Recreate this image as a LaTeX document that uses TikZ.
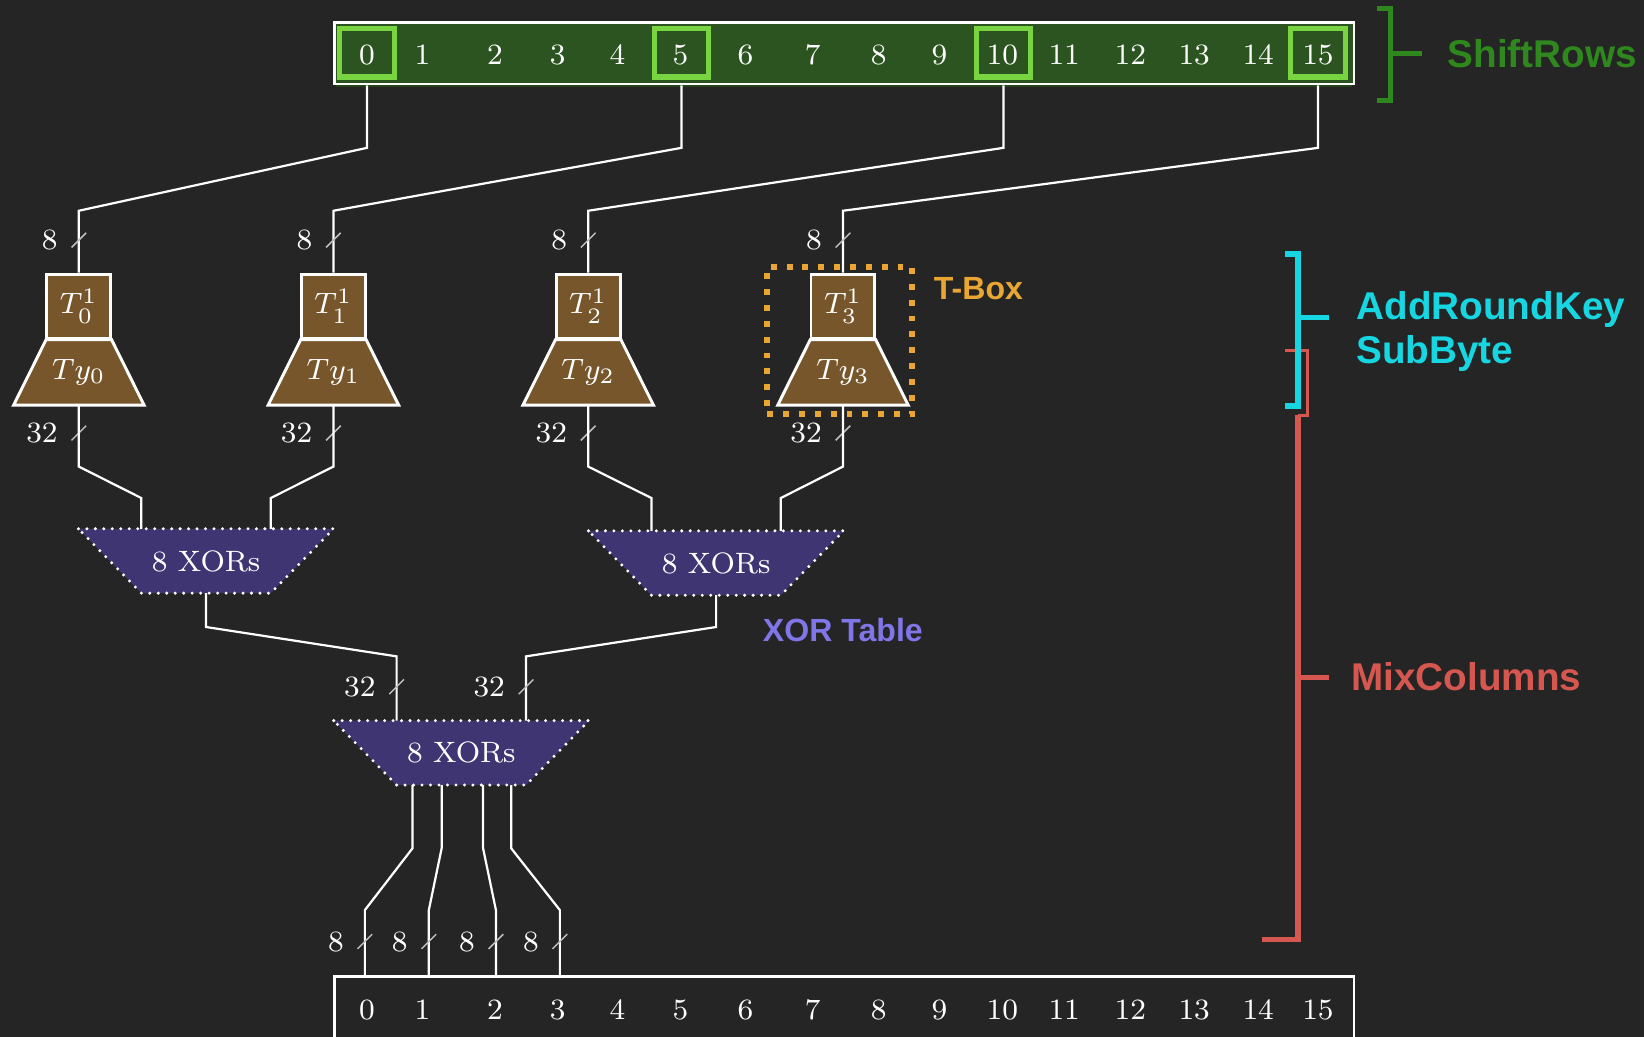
\documentclass[tikz,border=0pt]{standalone}
\usepackage{fontspec}
\setsansfont{Liberation Sans}
\usepackage{tikz}
\usetikzlibrary{positioning,calc,fit,backgrounds}
\definecolor{bg}{RGB}{37,37,37}
\definecolor{regfill}{RGB}{44,84,32}
\definecolor{regshade}{RGB}{34,66,24}
\definecolor{hilite}{RGB}{120,212,64}
\definecolor{srgreen}{RGB}{46,136,30}
\definecolor{tbrown}{RGB}{118,86,42}
\definecolor{xorfill}{RGB}{62,53,114}
\definecolor{xorlbl}{RGB}{128,118,232}
\definecolor{tboxorange}{RGB}{234,166,50}
\definecolor{akcyan}{RGB}{22,214,226}
\definecolor{mcred}{RGB}{214,86,80}
\newcommand{\buswidth}[2]{%
  \coordinate (bw) at (#1);
  \draw[slash] ($(bw)+(-0.07,-0.07)$) -- ($(bw)+(0.07,0.07)$);
  \node[buslbl] at ($(bw)+(-0.16,0)$) {#2};}

\begin{document}
\begin{tikzpicture}[
  font=\fontsize{8}{9.6}\selectfont,
  wire/.style={draw=white,line width=0.6pt},
  slash/.style={draw=white!70!bg,line width=0.4pt},
  buslbl/.style={text=white,anchor=east,inner sep=1pt},
  reg/.style={draw=white,line width=0.7pt,minimum height=0.59cm,minimum width=9.72cm,inner sep=0pt},
  cell/.style={text=white,inner sep=1pt},
  hl/.style={draw=hilite,line width=1.4pt,minimum width=0.52cm,minimum height=0.46cm,inner sep=0pt},
  tsq/.style={draw=white,fill=tbrown,line width=0.8pt,minimum size=0.61cm,inner sep=0pt,text=white},
  tybody/.style={minimum width=0.61cm,minimum height=0.61cm,inner sep=0pt,text=white},
  tyedge/.style={draw=white,fill=tbrown,line width=0.8pt,line join=miter},
  xorbody/.style={minimum width=1.22cm,minimum height=0.6cm,inner sep=0pt,text=white},
  xoredge/.style={draw=white,fill=xorfill,line width=0.9pt,dash pattern=on 0pt off 2.3pt,line cap=round},
  tbframe/.style={draw=tboxorange,line width=1.6pt,dash pattern=on 1.6pt off 2.7pt,inner sep=0.07cm},
  brk/.style={line width=1.5pt},
  tag/.style={font=\fontsize{10.5}{12}\selectfont\sffamily\bfseries,anchor=west,inner sep=0pt},
  smalltag/.style={font=\fontsize{8.7}{10}\selectfont\sffamily\bfseries,anchor=west,inner sep=0pt}
]
\useasboundingbox (0,0) rectangle (15.68,-9.89);
\clip (0,0) rectangle (15.68,-9.89);
\begin{scope}[on background layer]
  \fill[bg] (0,0) rectangle (15.68,-9.89);
\end{scope}
% state registers
\fill[regshade] (3.20,-0.22) rectangle (12.89,-0.83);
\node[reg,fill=regfill,anchor=north west] (sr) at (3.18,-0.20) {};
\node[reg,anchor=north west,minimum height=1cm] (or) at (3.18,-9.30) {};
\foreach \i/\x in {0/3.50,1/4.03,2/4.72,3/5.32,4/5.89,5/6.49,6/7.11,7/7.75,8/8.38,9/8.96,
                   10/9.56,11/10.15,12/10.78,13/11.39,14/12.00,15/12.57}{
  \node[cell] (s\i) at (\x,-0.52) {\i};
  \node[cell] (o\i) at (\x,-9.63) {\i};
}
\foreach \i/\x in {0/3.50,5/6.50,10/9.57,15/12.57}
  \node[hl] (h\i) at (\x,-0.505) {};
% T-boxes
\foreach \j/\x in {0/0.752,1/3.18,2/5.61,3/8.04}{
  \node[tsq] (t\j) at (\x,-2.92) {$T_{\j}^{1}$};
  \node[tybody,anchor=north] (ty\j) at (t\j.south) {$Ty_{\j}$};
  \begin{scope}[on background layer]
    \draw[tyedge] (ty\j.north west) -- (ty\j.north east) -- ($(ty\j.south east)+(0.31,0)$)
      coordinate (ty\j br) -- ($(ty\j.south west)+(-0.31,0)$) coordinate (ty\j bl) -- cycle;
  \end{scope}
}
\node[tbframe,fit=(t3)(ty3bl)(ty3br),xshift=-0.3mm,yshift=-0.15mm] (tbox) {};
% xor tables
\node[xorbody] (xor1) at (1.965,-5.35) {8 XORs};
\node[xorbody] (xor2) at (6.83,-5.37) {8 XORs};
\node[xorbody] (xor3) at (4.40,-7.18) {8 XORs};
\begin{scope}[on background layer]
  \foreach \n in {xor1,xor2,xor3}
    \draw[xoredge] ($(\n.north west)+(-0.6,0)$) -- ($(\n.north east)+(0.6,0)$)
      -- (\n.south east) -- (\n.south west) -- cycle;
\end{scope}
% shiftrows -> T-boxes
\foreach \i/\j in {0/0,5/1,10/2,15/3}{
  \draw[wire] (h\i |- sr.south) -- (h\i |- 0,-1.41) -- (t\j |- 0,-2.01) -- (t\j.north);
  \buswidth{t\j |- 0,-2.29}{8}
  \buswidth{ty\j |- 0,-4.13}{32}
}
% T-boxes -> xor
\draw[wire] (ty0.south) -- (ty0 |- 0,-4.45) -- (xor1.north west |- 0,-4.75) -- (xor1.north west);
\draw[wire] (ty1.south) -- (ty1 |- 0,-4.45) -- (xor1.north east |- 0,-4.75) -- (xor1.north east);
\draw[wire] (ty2.south) -- (ty2 |- 0,-4.45) -- (xor2.north west |- 0,-4.75) -- (xor2.north west);
\draw[wire] (ty3.south) -- (ty3 |- 0,-4.45) -- (xor2.north east |- 0,-4.75) -- (xor2.north east);
\draw[wire] (xor1.south) -- (xor1.south |- 0,-5.98) -- (xor3.north west |- 0,-6.26) -- (xor3.north west);
\draw[wire] (xor2.south) -- (xor2.south |- 0,-5.98) -- (xor3.north east |- 0,-6.26) -- (xor3.north east);
\buswidth{xor3.north west |- 0,-6.55}{32}
\buswidth{xor3.north east |- 0,-6.55}{32}
% xor -> output bytes
\foreach \k/\f/\b in {0/0.123/3.48,1/0.348/4.09,2/0.668/4.73,3/0.885/5.34}{
  \coordinate (b\k) at (\b,-9.30);
  \draw[wire] ($(xor3.south west)!\f!(xor3.south east)$) coordinate (q\k)
    -- (q\k |- 0,-8.09) -- (b\k |- 0,-8.68) -- (b\k);
  \buswidth{b\k |- 0,-8.98}{8}
}
% stage brackets
\draw[brk,srgreen] (13.13,-0.08) -- (13.26,-0.08) -- (13.26,-0.96) -- (13.13,-0.96);
\draw[brk,srgreen] (13.26,-0.51) -- (13.56,-0.51);
\draw[mcred,line width=0.8pt] (12.26,-3.34) -- (12.47,-3.34) -- (12.47,-3.96) -- (12.38,-3.96);
\draw[brk,mcred] (12.38,-3.96) -- (12.38,-8.96) -- (12.04,-8.96);
\draw[brk,mcred] (12.38,-6.46) -- (12.68,-6.46);
\draw[brk,akcyan] (12.26,-2.42) -- (12.38,-2.42) -- (12.38,-3.87) -- (12.26,-3.87);
\draw[brk,akcyan] (12.38,-3.03) -- (12.68,-3.03);
% labels
\node[tag,text=srgreen] (lsr) at (13.80,-0.51) {ShiftRows};
\node[tag,text=akcyan] (lak) at (12.93,-2.95) {AddRoundKey};
\node[tag,text=akcyan] (lsb) at (12.93,-3.37) {SubByte};
\node[tag,text=mcred] (lmc) at (12.88,-6.45) {MixColumns};
\node[smalltag,text=tboxorange] (ltb) at (8.90,-2.75) {T-Box};
\node[smalltag,text=xorlbl] (lxt) at (7.27,-6.01) {XOR Table};
\end{tikzpicture}
\end{document}
